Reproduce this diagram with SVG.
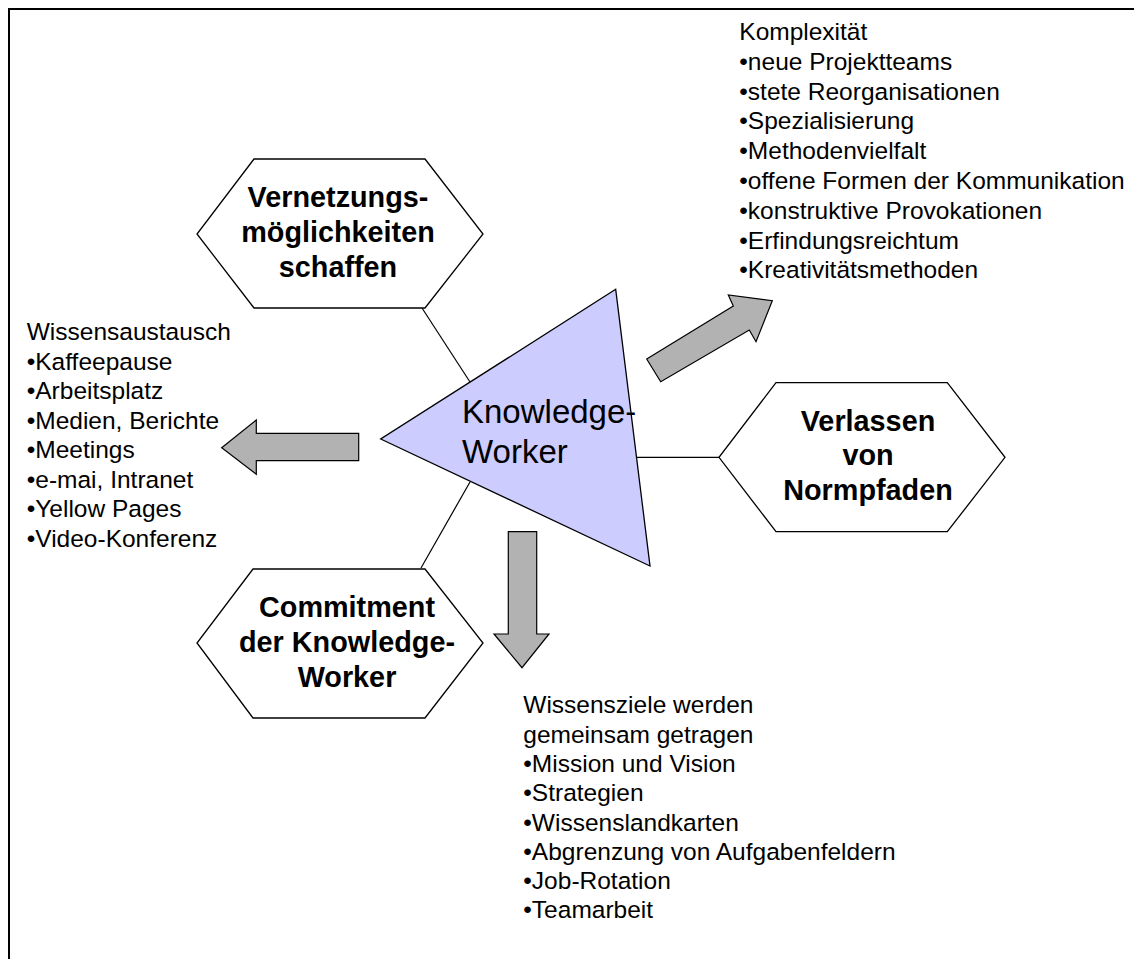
<svg xmlns="http://www.w3.org/2000/svg" width="1134" height="959" viewBox="0 0 1134 959">
<style>
.hex{fill:#fff;stroke:#000;stroke-width:1.3}
.arr{fill:#b2b2b2;stroke:#000;stroke-width:1.2}
.ln{stroke:#000;stroke-width:1.2;fill:none}
.ht{font-family:"Liberation Sans",Arial,sans-serif;font-weight:bold;font-size:28.8px;text-anchor:middle;fill:#000}
.lt{font-family:"Liberation Sans",Arial,sans-serif;font-size:24.5px;fill:#000}
.kt{font-family:"Liberation Sans",Arial,sans-serif;font-size:33px;fill:#000}
</style>
<rect width="1134" height="959" fill="#fff"/>
<path d="M9,959 V9 H1134" fill="none" stroke="#000" stroke-width="2"/>
<g id="connectors">
<line class="ln" x1="422" y1="308" x2="470" y2="382"/>
<line class="ln" x1="470" y1="482" x2="421" y2="568"/>
<line class="ln" x1="631" y1="457.3" x2="719" y2="457.3"/>
<polygon class="arr" points="221.7,447.7 256.3,420 256.3,433.3 358.7,433.3 358.7,460.7 256.3,460.7 256.3,474.3"/>
<polygon class="arr" points="508.3,531.7 536.7,531.7 536.7,634 549,634 522,667.7 494,634 508.3,634"/>
<polygon class="arr" points="646.7,359 733.3,306 728.3,295 772.3,300.7 756,341.7 749.3,330 660.7,381.7"/>
</g>
<g id="knowledge-worker">
<polygon points="615.7,289.3 380.7,439 650,566" fill="#ccccff" stroke="#000" stroke-width="1.3"/>
<text class="kt" x="462" y="423">Knowledge-</text>
<text class="kt" x="462" y="463">Worker</text>
</g>
<g id="vernetzung">
<polygon class="hex" points="254,159 425,159 483,234 425,308 254,308 197,234"/>
<text class="ht" x="338" y="207">Vernetzungs-</text>
<text class="ht" x="338" y="242">möglichkeiten</text>
<text class="ht" x="338" y="277">schaffen</text>
</g>
<g id="verlassen">
<polygon class="hex" points="776,382.7 947.3,382.7 1005,457.3 947.3,531.7 776,531.7 719,457.3"/>
<text class="ht" x="868" y="430.7">Verlassen</text>
<text class="ht" x="868" y="465">von</text>
<text class="ht" x="868" y="500">Normpfaden</text>
</g>
<g id="commitment">
<polygon class="hex" points="253,569 425,569 483,643 425,718 253,718 197,643"/>
<text class="ht" x="347" y="616.7">Commitment</text>
<text class="ht" x="347" y="651.7">der Knowledge-</text>
<text class="ht" x="347" y="686.7">Worker</text>
</g>
<g id="wissensaustausch">
<text class="lt" x="26.7" y="340">Wissensaustausch</text>
<text class="lt" x="26.7" y="369.5">•Kaffeepause</text>
<text class="lt" x="26.7" y="399">•Arbeitsplatz</text>
<text class="lt" x="26.7" y="428.5">•Medien, Berichte</text>
<text class="lt" x="26.7" y="458">•Meetings</text>
<text class="lt" x="26.7" y="487.5">•e-mai, Intranet</text>
<text class="lt" x="26.7" y="517">•Yellow Pages</text>
<text class="lt" x="26.7" y="546.5">•Video-Konferenz</text>
</g>
<g id="komplexitaet">
<text class="lt" x="739.3" y="40">Komplexität</text>
<text class="lt" x="739.3" y="69.8">•neue Projektteams</text>
<text class="lt" x="739.3" y="99.6">•stete Reorganisationen</text>
<text class="lt" x="739.3" y="129.4">•Spezialisierung</text>
<text class="lt" x="739.3" y="159.2">•Methodenvielfalt</text>
<text class="lt" x="739.3" y="189">•offene Formen der Kommunikation</text>
<text class="lt" x="739.3" y="218.8">•konstruktive Provokationen</text>
<text class="lt" x="739.3" y="248.6">•Erfindungsreichtum</text>
<text class="lt" x="739.3" y="278.4">•Kreativitätsmethoden</text>
</g>
<g id="wissensziele">
<text class="lt" x="523.3" y="713.3">Wissensziele werden</text>
<text class="lt" x="523.3" y="742.6">gemeinsam getragen</text>
<text class="lt" x="523.3" y="771.9">•Mission und Vision</text>
<text class="lt" x="523.3" y="801.2">•Strategien</text>
<text class="lt" x="523.3" y="830.5">•Wissenslandkarten</text>
<text class="lt" x="523.3" y="859.8">•Abgrenzung von Aufgabenfeldern</text>
<text class="lt" x="523.3" y="889.1">•Job-Rotation</text>
<text class="lt" x="523.3" y="918.4">•Teamarbeit</text>
</g>
</svg>
